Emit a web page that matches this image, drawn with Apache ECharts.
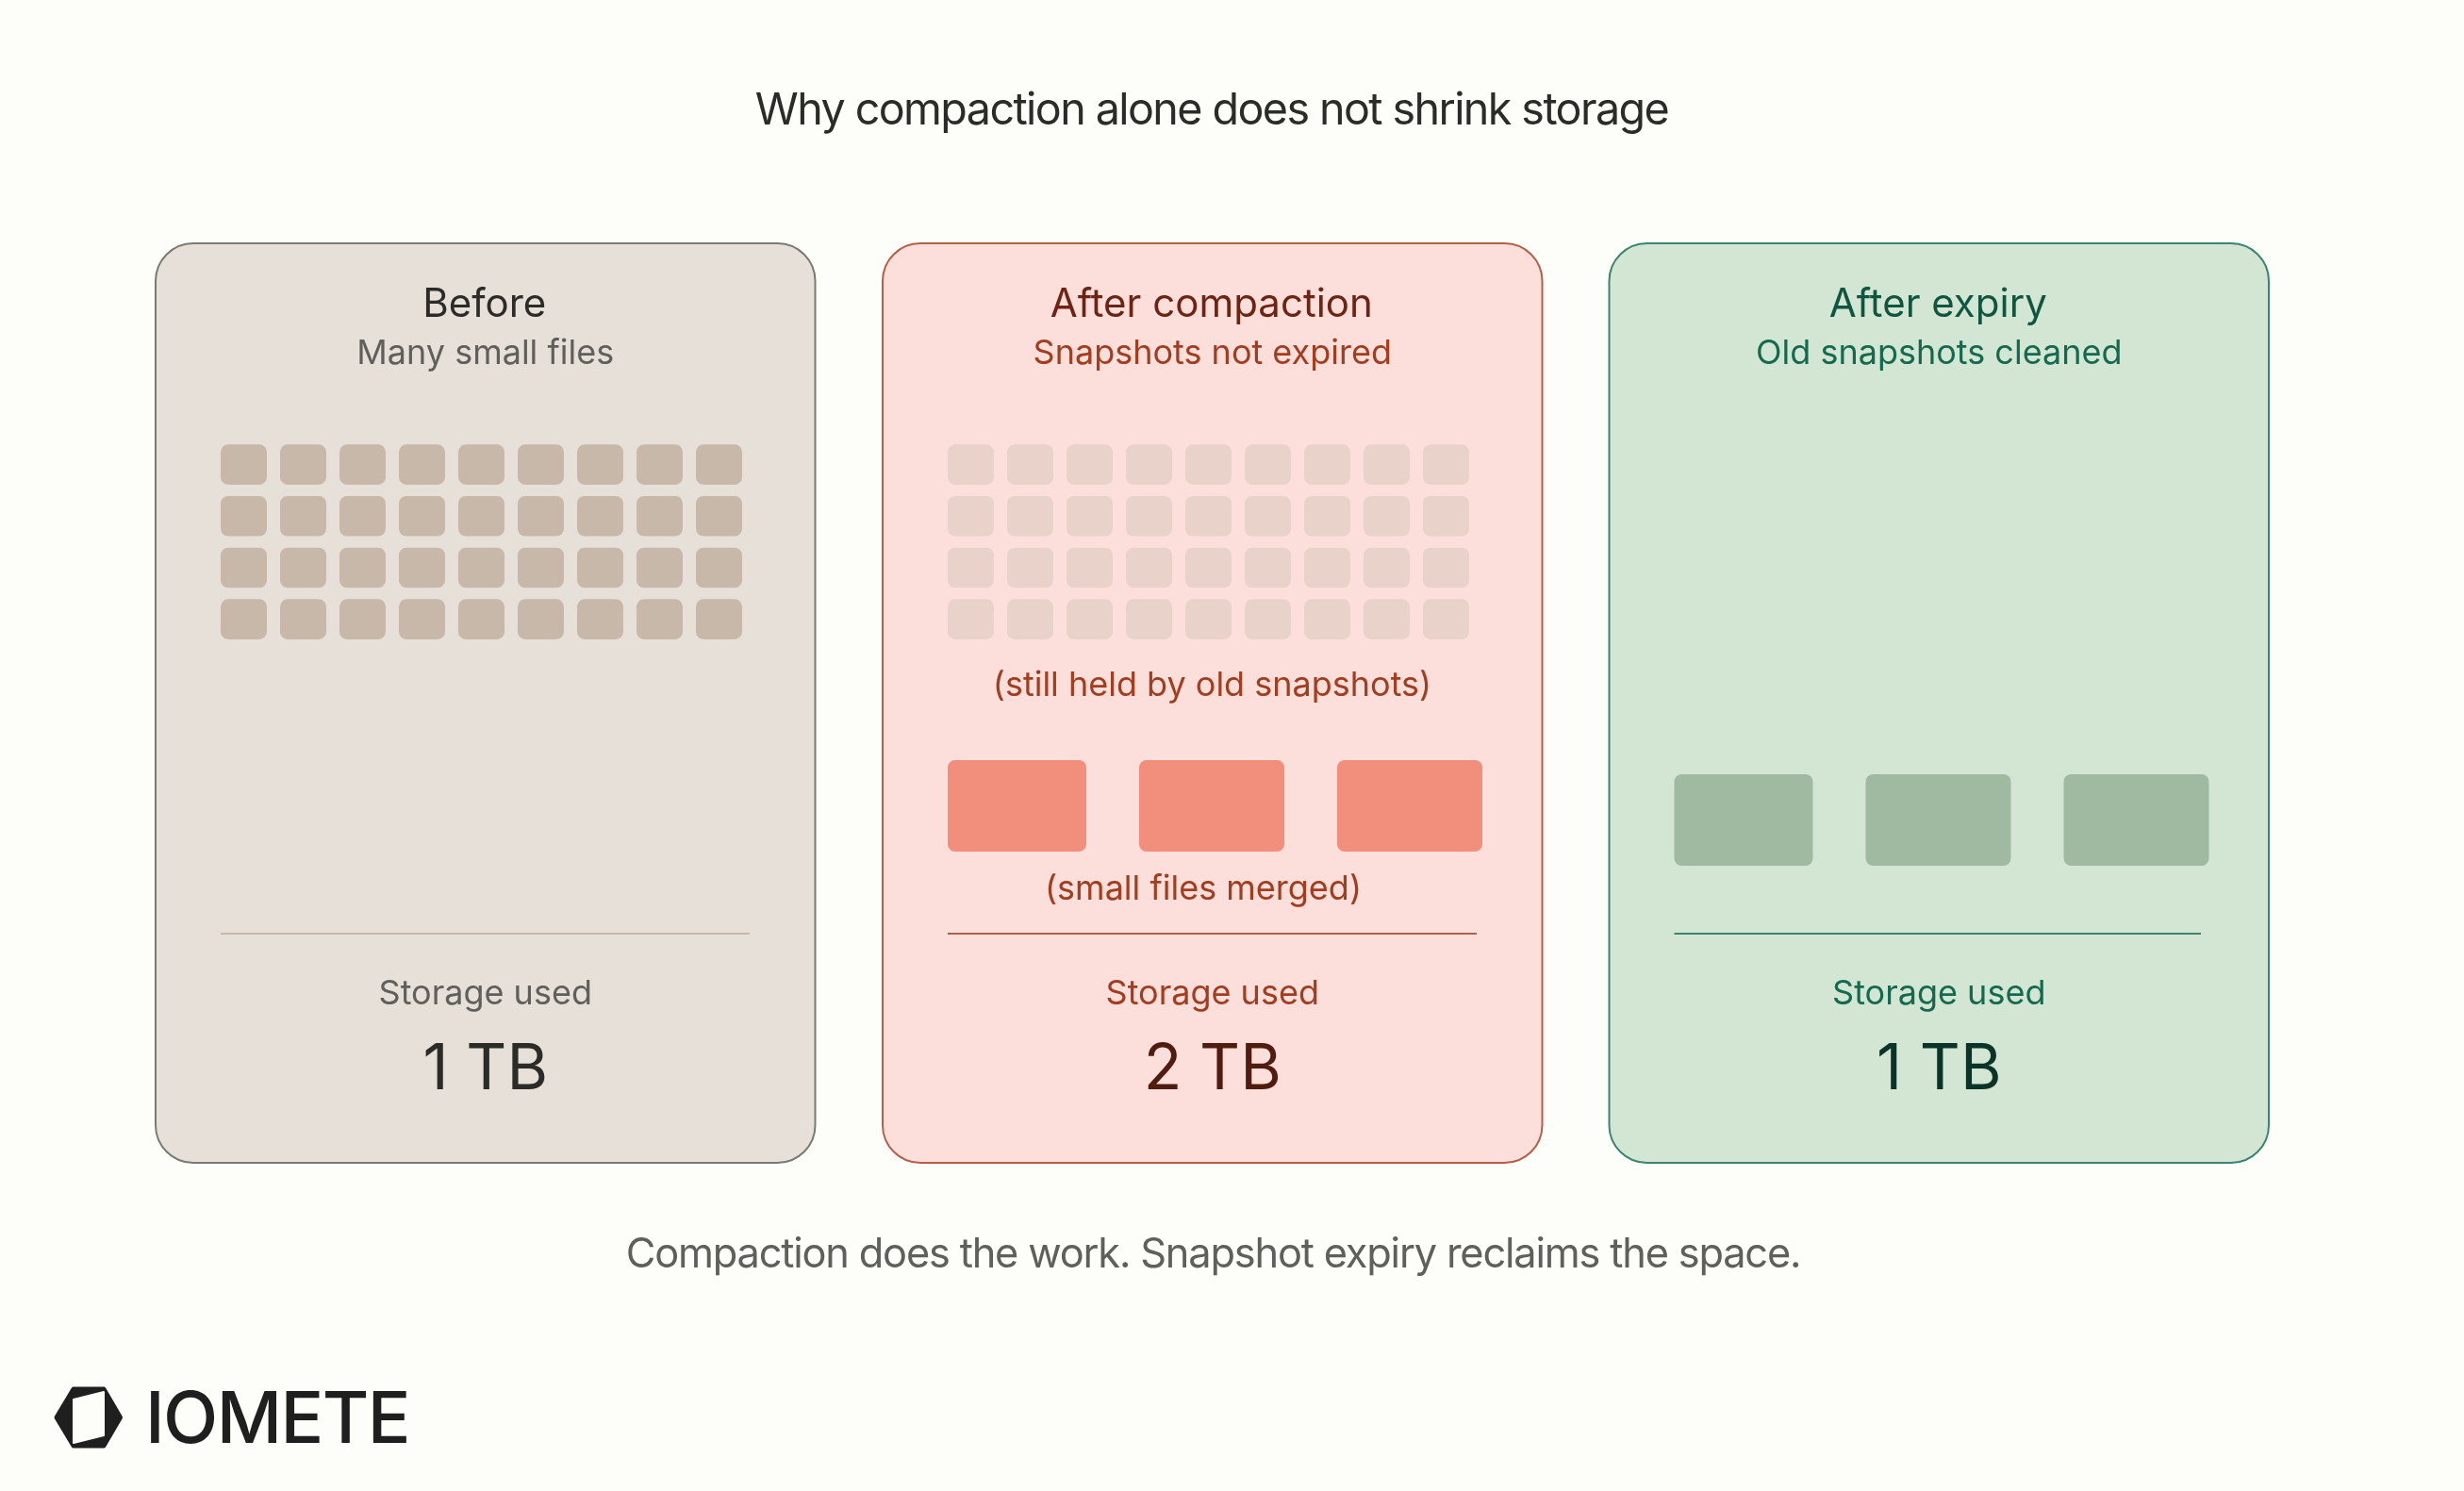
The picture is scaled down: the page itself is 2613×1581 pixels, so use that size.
<!DOCTYPE html>
<html>
<head>
<meta charset="utf-8">
<title>Why compaction alone does not shrink storage</title>
<script src="https://cdn.jsdelivr.net/npm/echarts@6/dist/echarts.min.js"></script>
<style>
html, body { margin: 0; padding: 0; background: #fdfefa; }
#main { width: 2613px; height: 1581px; }
</style>
</head>
<body>
<div id="main"></div>
<script>
// chart data
var titleText = "Why compaction alone does not shrink storage";
var footerText = "Compaction does the work. Snapshot expiry reclaims the space.";
var logoText = "IOMETE";
var stageNames = ["Before", "After compaction", "After expiry"];
var stageNotes = ["Many small files", "Snapshots not expired", "Old snapshots cleaned"];
var storageLabel = "Storage used";
var storageTB = [1, 2, 1];
var heldLabel = "(still held by old snapshots)";
var mergedLabel = "(small files merged)";
var fileColumns = ["1", "2", "3", "4", "5", "6", "7", "8", "9"];
var fileRows = ["1", "2", "3", "4"];
var mergedFileSizes = [147, 154, 154];

var font = "Inter";
var cards = [
    {x: 165, ruleX2: 795, fill: "#e7e0d9", stroke: "#7a7a72", name: "#2b2b28", note: "#60605a", big: "#2b2b28", rule: "#c8b8aa"},
    {x: 936, ruleX2: 1566, fill: "#fcdfda", stroke: "#b3604a", name: "#6f2413", note: "#a23d20", big: "#4f1c0f", rule: "#b3604a"},
    {x: 1706.5, ruleX2: 2334, fill: "#d3e6d4", stroke: "#3b8570", name: "#0f5540", note: "#14694f", big: "#0b3327", rule: "#3b8570"}
];

// the headline, footer and logo are set tighter than the font's default
var tracking = {};
tracking[titleText] = "-1.6px";
tracking[footerText] = "-1.18px";
tracking[logoText] = "-1.6px";
var nativeFillText = CanvasRenderingContext2D.prototype.fillText;
CanvasRenderingContext2D.prototype.fillText = function (str, x, y) {
    this.letterSpacing = tracking[str] || "0px";
    return nativeFillText.call(this, str, x, y);
};

function text(str, x, y, size, color, weight) {
    return {
        type: "text", x: x, y: y, silent: true,
        style: {
            text: str, fill: color, align: "center", verticalAlign: "middle",
            fontFamily: font, fontSize: size, fontWeight: weight || 400
        }
    };
}

var graphics = [];
cards.forEach(function (c, i) {
    var cx = c.x + 349.75;
    graphics.push({
        type: "rect", z: -1, silent: true,
        shape: {x: c.x, y: 258, width: 699.5, height: 975, r: 40},
        style: {fill: c.fill, stroke: c.stroke, lineWidth: 2}
    });
    graphics.push(text(stageNames[i], cx - 1, 323, 42, c.name));
    graphics.push(text(stageNotes[i], cx, 375.5, 36, c.note));
    graphics.push({
        type: "line", silent: true,
        shape: {x1: c.x + 69, y1: 990, x2: c.ruleX2, y2: 990},
        style: {stroke: c.rule, lineWidth: 1.8}
    });
    graphics.push(text(storageLabel, cx, 1054.5, 36, c.note));
    graphics.push(text(storageTB[i] + " TB", cx, 1135, 66.7, c.big));
});
graphics.push(text(titleText, 1285, 118, 46.67, "#2b2b28"));
graphics.push(text(footerText, 1286.5, 1331, 43.33, "#60605a"));
graphics.push(text(heldLabel, 1285.5, 727.5, 36, cards[1].note));
graphics.push(text(mergedLabel, 1276, 943.5, 36, cards[1].note));
graphics.push({
    type: "polygon", silent: true,
    shape: {points: [[60, 1503], [78, 1473], [110, 1473], [127.5, 1503], [110, 1533], [78, 1533]]},
    style: {fill: "#1f1f1f", stroke: "#1f1f1f", lineWidth: 5, lineJoin: "round"}
});
graphics.push({
    type: "polygon", silent: true,
    shape: {points: [[78, 1484], [110, 1476], [110, 1522], [78, 1530]]},
    style: {fill: "#fdfefa", stroke: "#fdfefa", lineWidth: 2, lineJoin: "round"}
});
graphics.push({
    type: "text", x: 154, y: 1507, silent: true,
    style: {text: logoText, fill: "#1f1f1f", align: "left", verticalAlign: "middle",
        fontFamily: font, fontSize: 76, fontWeight: 500}
});

// small file cells, one row/column pair each
var cellData = [];
fileRows.forEach(function (r) {
    fileColumns.forEach(function (col) {
        cellData.push([col, r]);
    });
});

function renderCell(params, api) {
    var p = api.coord([api.value(0), api.value(1)]);
    var band = api.size([1, 1]);
    var w = band[0] * 49 / 63, h = band[1] * 42.6 / 54.67;
    return {
        type: "rect",
        shape: {x: p[0] - w / 2, y: p[1] - h / 2, width: w, height: h, r: 8},
        style: {fill: api.visual("color")}
    };
}

// merged files laid out one after another along a value axis
var fileGap = 56;
var mergedData = [];
var pos = 0;
mergedFileSizes.forEach(function (s) {
    mergedData.push([pos, pos + s, "files"]);
    pos += s + fileGap;
});

function renderMerged(params, api) {
    var a = api.coord([api.value(0), "files"]);
    var b = api.coord([api.value(1), "files"]);
    var h = api.size([0, 1])[1];
    return {
        type: "rect",
        shape: {x: a[0], y: a[1] - h / 2, width: b[0] - a[0], height: h, r: 8},
        style: {fill: api.visual("color")}
    };
}

var grids = [
    {left: 227, top: 465.3, width: 567, height: 218.7},
    {left: 998, top: 465.3, width: 567, height: 218.7},
    {left: 1005, top: 806, width: 570, height: 97},
    {left: 1775.5, top: 821, width: 570, height: 97}
];
var xAxes = [], yAxes = [];
grids.forEach(function (g, i) {
    var small = i < 2;
    xAxes.push(small ? {type: "category", gridIndex: i, data: fileColumns, show: false}
        : {type: "value", gridIndex: i, min: 0, max: 570, show: false});
    yAxes.push(small ? {type: "category", gridIndex: i, data: fileRows, inverse: true, show: false}
        : {type: "category", gridIndex: i, data: ["files"], show: false});
});

var myChart = echarts.init(document.getElementById("main"));
myChart.setOption({
    animation: false,
    backgroundColor: "#fdfefa",
    grid: grids,
    xAxis: xAxes,
    yAxis: yAxes,
    graphic: graphics,
    series: [
        {type: "custom", xAxisIndex: 0, yAxisIndex: 0, renderItem: renderCell, data: cellData, itemStyle: {color: "#c8b8aa"}, silent: true},
        {type: "custom", xAxisIndex: 1, yAxisIndex: 1, renderItem: renderCell, data: cellData, itemStyle: {color: "#e9d2ca"}, silent: true},
        {type: "custom", xAxisIndex: 2, yAxisIndex: 2, renderItem: renderMerged, data: mergedData, itemStyle: {color: "#f18e7c"}, silent: true},
        {type: "custom", xAxisIndex: 3, yAxisIndex: 3, renderItem: renderMerged, data: mergedData, itemStyle: {color: "#a0b9a1"}, silent: true}
    ]
});
</script>
</body>
</html>
